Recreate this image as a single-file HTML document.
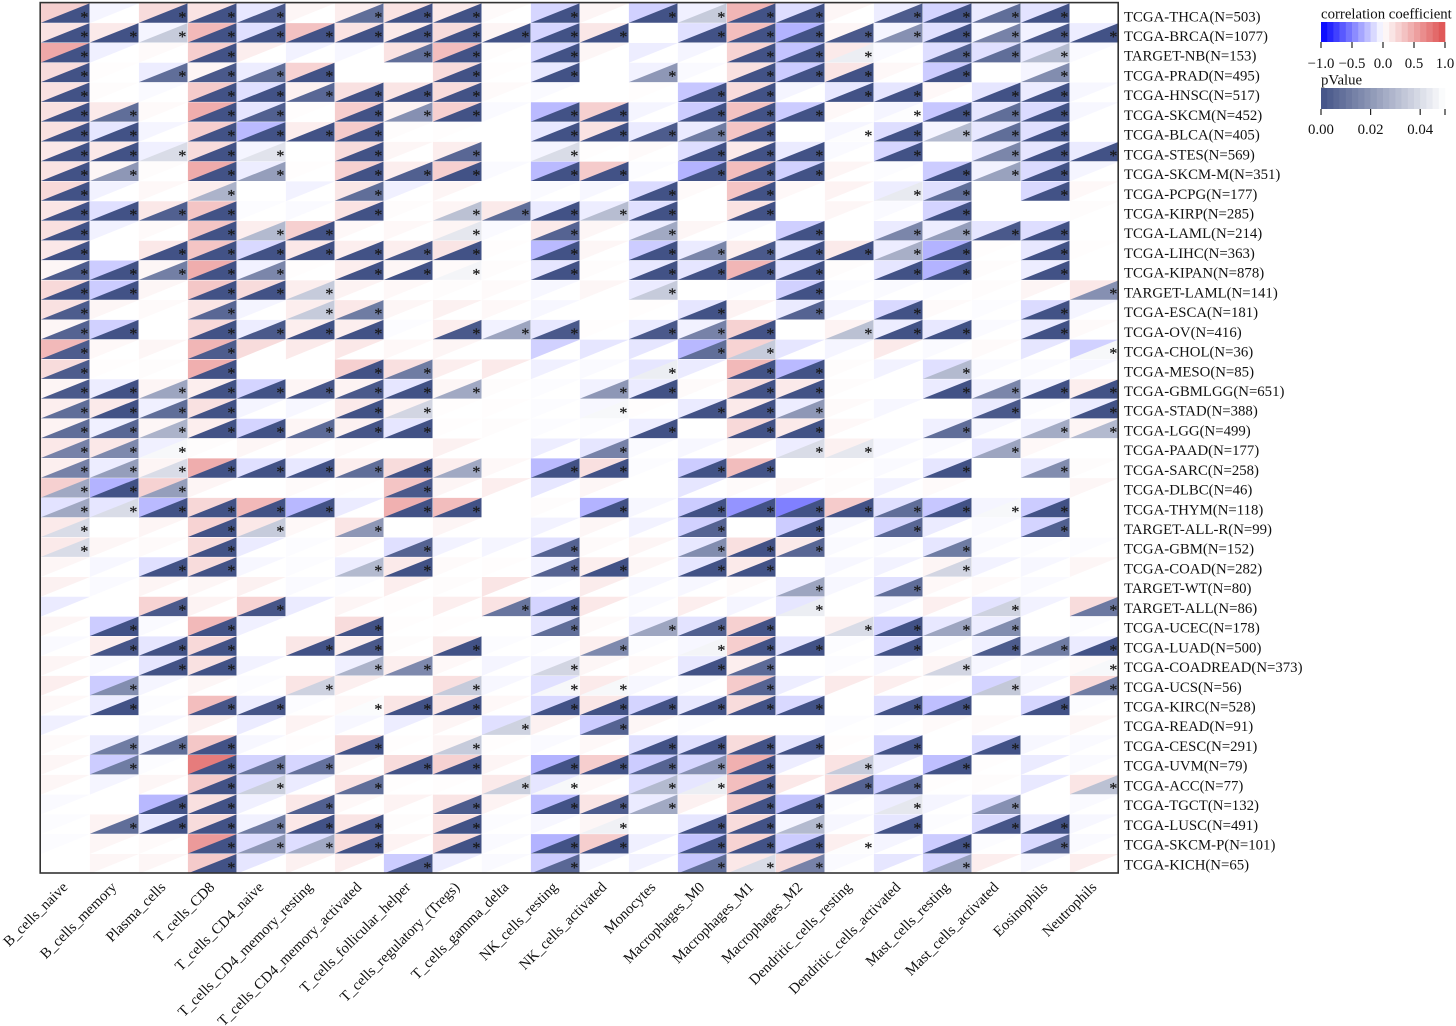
<!DOCTYPE html>
<html lang="en">
<head>
<meta charset="utf-8">
<title>Immune cell correlation heatmap</title>
<style>
html,body{margin:0;padding:0;background:#fff;}
svg{display:block;font-family:"Liberation Serif","Times New Roman",serif;}
text{fill:#111;}
</style>
</head>
<body>
<svg id="chart" xmlns="http://www.w3.org/2000/svg" width="1456" height="1026" viewBox="0 0 1456 1026">
  <g id="cells"></g>
  <rect x="40.2" y="2.6" width="1078" height="870.4" fill="none" stroke="#333" stroke-width="1.6"></rect>
  <g id="row-labels"></g>
  <g id="col-labels"></g>
  <g id="legend-corr"></g>
  <g id="legend-p"></g>
</svg>
<script>
const rowLabels = ["TCGA-THCA(N=503)","TCGA-BRCA(N=1077)","TARGET-NB(N=153)","TCGA-PRAD(N=495)","TCGA-HNSC(N=517)","TCGA-SKCM(N=452)","TCGA-BLCA(N=405)","TCGA-STES(N=569)","TCGA-SKCM-M(N=351)","TCGA-PCPG(N=177)","TCGA-KIRP(N=285)","TCGA-LAML(N=214)","TCGA-LIHC(N=363)","TCGA-KIPAN(N=878)","TARGET-LAML(N=141)","TCGA-ESCA(N=181)","TCGA-OV(N=416)","TCGA-CHOL(N=36)","TCGA-MESO(N=85)","TCGA-GBMLGG(N=651)","TCGA-STAD(N=388)","TCGA-LGG(N=499)","TCGA-PAAD(N=177)","TCGA-SARC(N=258)","TCGA-DLBC(N=46)","TCGA-THYM(N=118)","TARGET-ALL-R(N=99)","TCGA-GBM(N=152)","TCGA-COAD(N=282)","TARGET-WT(N=80)","TARGET-ALL(N=86)","TCGA-UCEC(N=178)","TCGA-LUAD(N=500)","TCGA-COADREAD(N=373)","TCGA-UCS(N=56)","TCGA-KIRC(N=528)","TCGA-READ(N=91)","TCGA-CESC(N=291)","TCGA-UVM(N=79)","TCGA-ACC(N=77)","TCGA-TGCT(N=132)","TCGA-LUSC(N=491)","TCGA-SKCM-P(N=101)","TCGA-KICH(N=65)"];
const colLabels = ["B_cells_naive","B_cells_memory","Plasma_cells","T_cells_CD8","T_cells_CD4_naive","T_cells_CD4_memory_resting","T_cells_CD4_memory_activated","T_cells_follicular_helper","T_cells_regulatory_(Tregs)","T_cells_gamma_delta","NK_cells_resting","NK_cells_activated","Monocytes","Macrophages_M0","Macrophages_M1","Macrophages_M2","Dendritic_cells_resting","Dendritic_cells_activated","Mast_cells_resting","Mast_cells_activated","Eosinophils","Neutrophils"];
const corrValues = [
[.27,-.04,.2,.16,-.09,.05,.1,.16,.12,.03,-.16,.06,-.18,-.06,.42,-.13,.05,-.07,-.17,-.08,-.11,0],
[.16,.12,-.04,.4,-.12,.35,.16,.12,.2,.06,-.16,.14,0,-.12,.37,-.3,.05,-.04,-.12,-.03,-.05,-.07],
[.5,-.06,.03,.28,.1,-.05,-.03,.16,.37,.02,-.15,.05,-.07,-.04,.25,-.23,.12,-.02,-.13,-.12,-.08,-.02],
[.2,.01,-.07,.06,-.07,.25,0,0,.2,.01,-.09,0,-.05,-.02,.17,-.2,.15,.04,-.2,0,-.04,0],
[.17,.02,-.02,.3,-.12,.08,.17,.15,.2,.03,-.02,0,.01,-.22,.2,-.04,-.09,-.1,.04,-.1,-.08,-.03],
[.17,.12,.03,.47,-.1,.01,.28,.07,.27,-.02,-.27,.27,-.04,-.2,.35,-.2,.04,-.04,-.22,-.1,-.14,-.03],
[.17,-.1,-.04,.28,-.27,.1,.3,.02,.01,0,-.09,.16,-.08,-.08,.33,0,-.04,-.13,-.04,-.09,-.12,0],
[.13,.13,-.06,.2,-.04,0,.2,.05,.1,0,-.04,.01,.03,-.13,.12,-.08,-.02,-.16,0,-.08,-.1,-.08],
[.16,.05,.02,.48,-.07,.01,.27,.1,.27,-.02,-.27,.3,-.01,-.3,.38,-.18,.06,-.01,-.2,-.05,-.14,-.04],
[.22,-.05,.04,.1,0,-.05,.14,-.06,.06,0,-.02,-.03,-.14,.03,.33,.04,.07,-.07,-.12,0,-.15,.04],
[.15,-.12,.13,.33,-.01,-.02,.16,.02,.06,.12,-.08,-.07,-.12,0,.16,0,.05,-.02,-.17,0,0,.02],
[.18,-.05,.03,.33,.1,.27,.04,.04,.06,-.02,.12,.05,-.07,.05,-.02,-.19,0,-.08,-.07,-.1,-.13,0],
[.13,0,.13,.33,-.15,.13,.1,.1,.15,.01,-.27,.05,-.2,-.08,.1,-.1,.12,-.07,-.3,.01,-.09,.01],
[.05,-.2,.05,.47,-.05,.01,.1,.05,.03,.02,-.1,.02,-.09,-.1,.42,-.11,.02,-.1,-.3,.02,-.07,0],
[.22,-.2,.05,.32,.2,.1,.07,.04,.02,.03,-.03,.05,-.08,0,-.01,-.18,-.01,-.02,-.01,.02,.06,.13],
[.17,.05,.03,.15,-.04,.1,.13,.05,.08,.04,-.03,0,.01,-.1,.07,-.08,-.04,-.15,.03,-.01,-.14,-.04],
[.05,-.18,0,.22,-.07,.1,.1,-.01,.1,-.05,-.09,.01,-.08,-.05,.26,0,.07,-.07,-.09,-.02,-.08,.03],
[.4,.04,.05,.42,.2,.12,.13,.04,.06,0,-.18,-.1,-.1,-.28,.25,-.1,-.04,.12,-.02,.03,-.1,-.18],
[.2,.01,.02,.46,0,0,.27,.18,.1,.12,-.06,-.02,-.1,-.08,.4,-.27,.02,-.05,-.12,-.02,-.02,-.03],
[.06,-.07,.06,.1,-.17,.06,.07,-.1,.05,.02,-.01,-.05,-.08,.03,.2,.12,.02,0,-.08,-.05,-.05,.1],
[.1,.12,-.06,.17,-.04,-.03,.12,.07,.01,.01,-.01,-.03,.01,-.08,.12,-.07,.03,-.03,0,-.08,-.01,-.07],
[.07,-.06,.05,.1,-.17,.06,.08,-.1,.01,.02,-.01,-.01,-.07,0,.22,.12,.04,0,-.06,-.03,-.05,.06],
[.13,.13,-.06,.02,.05,.04,.03,0,.08,0,-.07,-.1,-.02,-.03,.06,-.07,.08,-.03,-.02,-.1,.04,0],
[.09,-.07,.06,.47,-.12,-.09,.1,.2,.1,.04,-.27,.18,-.01,-.2,.38,0,.01,-.02,-.1,0,-.08,.02],
[.27,-.3,.26,.06,0,.03,.01,.33,.06,.1,-.1,.05,0,-.1,.03,.05,.02,-.05,.03,0,0,.05],
[-.11,-.1,-.27,.23,.4,-.28,-.08,.45,.38,0,.02,-.3,-.03,-.2,-.42,-.5,.3,-.12,-.22,-.04,-.2,0],
[.12,0,.06,.25,.13,.04,.15,0,.06,0,-.05,.05,-.05,-.18,0,-.2,-.03,-.16,-.08,-.02,-.17,0],
[.12,.05,.03,.2,-.08,-.01,.04,-.12,-.05,-.04,-.12,.03,.06,-.09,.18,.12,-.02,-.02,-.1,-.02,-.01,-.01],
[.05,-.03,-.12,.2,-.03,-.01,-.07,.12,.03,.01,-.05,.1,.05,-.1,.12,0,-.03,-.05,.06,-.05,-.03,.05],
[.08,-.02,.06,.05,.08,-.02,-.01,.1,.02,.15,-.01,.11,-.03,-.03,.03,-.08,-.03,-.12,.04,.03,-.02,0],
[-.08,0,.25,.07,.25,-.08,.06,.01,.1,.16,-.17,.13,-.02,.1,-.04,-.1,0,-.04,.09,-.11,-.05,.2],
[.06,-.2,-.02,.4,-.06,0,.2,.01,.01,0,-.1,.03,-.08,-.11,.27,0,.08,-.17,-.09,-.07,0,-.01],
[-.02,.1,-.1,.22,0,.14,.1,.02,.14,-.01,-.01,.09,-.01,-.03,.28,-.1,-.01,-.14,-.02,-.06,-.06,-.08],
[.06,-.02,-.1,.17,-.05,0,-.06,.1,.04,-.04,-.05,.05,.04,-.09,.1,0,-.01,-.03,.06,-.03,-.02,.03],
[.1,-.2,-.04,.05,-.01,.15,.09,0,.18,-.03,-.12,.12,-.03,-.02,.3,-.07,.12,.1,.01,-.17,-.04,.22],
[.04,-.08,-.01,.37,-.07,-.01,.04,.15,.15,.04,-.15,.14,-.17,-.09,.2,-.15,0,-.13,-.25,0,-.16,-.01],
[-.06,0,-.03,.08,-.08,.07,-.03,-.07,.06,-.12,.08,-.2,.05,-.01,0,0,-.01,-.01,.03,.03,0,.05],
[.03,-.08,-.06,.32,-.03,.01,.2,.01,.06,.01,-.02,.04,-.12,-.12,.2,-.1,.01,-.16,0,-.14,-.03,-.02],
[.05,-.2,-.01,.75,-.17,-.16,.05,.2,.26,.06,-.3,.28,-.2,-.16,.45,-.07,.16,-.07,-.25,.01,-.08,-.02],
[.05,-.04,.05,.3,-.13,-.08,.16,.01,.01,.12,-.1,.04,-.13,-.1,.37,.13,.2,-.2,.01,.02,-.09,.15],
[-.02,0,-.28,.18,-.06,.13,.04,.07,.15,.07,-.26,.15,-.08,.08,.3,-.22,-.01,-.07,-.04,-.12,0,-.02],
[-.01,.07,-.09,.2,-.05,.13,.15,.02,.17,-.01,-.03,.05,0,-.1,.2,-.04,-.03,-.1,-.01,-.14,-.08,-.03],
[-.01,.05,.03,.58,-.13,-.13,.2,.07,.2,-.02,-.3,.28,-.06,-.23,.25,-.2,.09,-.04,-.2,-.01,-.15,-.02],
[0,.05,.05,.3,-.1,.08,.1,-.2,-.07,-.02,-.2,-.04,-.05,-.22,.13,.2,-.02,-.1,-.17,.1,-.03,.1]
];
const pValues = [
[0,1,0,0,.002,1,.008,0,0,1,0,1,0,.035,0,0,1,.003,0,.008,0,1],
[0,0,.035,0,0,0,0,0,0,0,0,0,1,0,0,0,.002,.018,0,.014,.002,0],
[0,1,1,0,1,1,1,.008,0,1,0,1,1,1,0,0,.045,1,.004,.008,.03,1],
[0,1,.008,.002,.008,0,1,1,0,1,0,1,.02,1,0,0,0,1,0,1,.017,1],
[0,1,1,0,0,.006,0,0,0,1,1,1,1,0,0,1,0,0,1,0,0,1],
[0,.008,1,0,.004,1,0,.018,0,1,0,0,1,0,0,0,1,.0495,0,.008,0,1],
[0,0,1,0,0,0,0,1,1,1,0,0,.003,.012,0,1,.0495,0,.03,.008,0,1],
[0,0,.04,0,.042,1,0,1,.006,1,.04,1,1,0,0,0,1,0,1,.015,0,0],
[0,.02,1,0,.022,1,0,.004,0,1,0,0,1,0,0,0,1,1,0,.023,0,1],
[0,1,1,.028,1,1,.008,1,1,1,1,1,0,1,0,1,1,.044,.008,1,0,1],
[0,0,.004,0,1,1,0,1,.032,.008,0,.031,0,1,0,1,1,1,0,1,1,1],
[0,1,1,0,.03,0,1,1,.043,1,.005,1,.025,1,1,0,1,.015,.022,.002,0,1],
[0,1,0,0,0,0,0,.002,0,1,0,1,0,.015,.002,0,0,.027,0,1,0,1],
[.003,0,.013,0,.015,1,0,0,.047,1,0,1,0,0,0,0,1,0,0,1,0,1],
[0,0,1,0,0,.035,1,1,1,1,1,1,.035,1,1,0,1,1,1,1,1,.018],
[.003,1,1,.006,1,.035,.012,1,1,1,1,1,1,0,1,.005,1,0,1,1,0,1],
[.005,0,1,0,.002,0,0,1,.002,.024,.002,1,.002,.014,0,1,.032,0,0,1,0,1],
[.003,1,1,.003,1,1,1,1,1,1,1,1,1,.008,.035,1,1,1,1,1,1,.048],
[.003,1,1,0,1,1,0,.012,1,1,1,1,.045,1,0,0,1,1,.03,1,1,1],
[.002,0,.024,0,0,.001,.002,0,.025,1,1,.02,0,1,0,0,1,1,0,.015,0,0],
[.008,0,.008,0,1,1,0,.038,1,1,1,.048,1,0,0,.02,1,1,1,.002,1,0],
[.008,.006,.028,0,0,.007,.001,0,1,1,1,1,0,1,0,0,1,1,.008,1,.026,.03],
[.014,.016,.048,1,1,1,1,1,1,1,1,.014,1,1,1,.04,.043,1,1,.024,1,1],
[.014,.022,.04,0,0,0,.008,0,.025,1,0,0,1,0,0,1,1,1,0,1,.017,1],
[.025,0,.022,1,1,1,1,.002,1,1,1,1,1,1,1,1,1,1,1,1,1,1],
[.025,.04,0,0,0,0,1,0,0,1,1,0,1,0,0,0,0,.008,0,.048,0,1],
[.04,1,1,0,.035,1,.02,1,1,1,1,1,1,.005,1,0,1,.006,1,1,.004,1],
[.04,1,1,0,1,1,1,.005,1,1,.005,1,1,.017,0,.006,1,1,.012,1,1,1],
[1,1,0,0,1,1,.03,0,1,1,.005,0,1,0,0,1,1,1,.038,1,1,1],
[1,1,1,1,1,1,1,1,1,1,1,1,1,1,1,.024,1,.008,1,1,1,1],
[1,1,.002,1,.001,1,1,1,1,.01,.003,1,1,1,1,.045,1,1,1,.037,1,.011],
[1,0,1,0,1,1,0,1,1,1,.008,1,.024,.004,0,1,.04,0,.024,.017,1,1],
[1,.001,0,0,1,0,.002,1,0,1,1,.016,1,.047,0,0,1,0,1,.003,.012,0],
[1,1,0,0,1,1,.028,.016,1,1,.038,1,1,0,.007,1,1,1,.038,1,1,.048],
[1,.017,1,1,1,.037,1,1,.035,1,.048,.048,1,1,.005,1,1,1,1,.034,1,.012],
[1,0,1,.001,.001,1,.049,0,0,1,0,0,0,0,0,0,1,0,0,1,0,1],
[1,1,1,1,1,1,1,1,1,.037,1,.005,1,1,1,1,1,1,1,1,1,1],
[1,.012,.008,0,1,1,0,1,.035,1,1,1,0,0,0,0,1,0,1,0,1,1],
[1,.012,1,0,.01,.009,1,0,0,1,0,0,.005,.018,0,1,.035,1,0,1,1,1],
[1,1,1,0,.036,1,.008,1,1,.036,.048,1,.03,.045,0,1,.005,.006,1,1,1,.032],
[1,1,0,0,1,.004,1,1,.003,1,0,.003,.025,1,0,0,1,.043,1,.018,1,1],
[1,.008,0,0,.012,0,0,1,0,1,1,.046,1,0,0,.03,1,0,1,.001,0,1],
[1,1,1,0,.02,.025,0,1,0,1,0,0,1,0,0,0,.0495,1,0,1,.006,1],
[1,1,1,0,1,1,1,.002,1,1,.006,1,1,.008,.04,.014,1,1,.022,1,1,1]
];
const corrTickValues = [-1,-0.5,0,0.5,1];
const corrTickLabels = ["\u22121.0","\u22120.5","0.0","0.5","1.0"];
const pTickValues = [0,0.02,0.04,0.05];
const pTickLabels = ["0.00","0.02","0.04",""];

const SVGNS = "http://www.w3.org/2000/svg";
const FONT = 14.8;
function xScale(c){ return 40.9 + 49 * c; }
function yScale(r){ return 3.4 + 19.78 * r; }
function labelBaseline(r){ return 21.3 + 19.72 * r; }
function mix(a,b,t){ return Math.round(a + (b - a) * t); }
function corrColor(v){
  if (v >= 0) return "rgb(" + mix(255,222,v) + "," + mix(255,80,v) + "," + mix(255,80,v) + ")";
  const t = -v;
  return "rgb(" + mix(255,0,t) + "," + mix(255,0,t) + ",255)";
}
function pColor(p){
  const t = Math.min(p / 0.05, 1);
  return "rgb(" + mix(66,255,t) + "," + mix(82,255,t) + "," + mix(134,255,t) + ")";
}
function node(tag, attrs, parent, txt){
  const el = document.createElementNS(SVGNS, tag);
  for (const k in attrs) el.setAttribute(k, attrs[k]);
  if (txt !== undefined) el.textContent = txt;
  parent.appendChild(el);
  return el;
}

const cellsG = document.getElementById("cells");
corrValues.forEach(function(row, r){
  row.forEach(function(v, c){
    const x0 = xScale(c), x1 = xScale(c + 1), y0 = yScale(r), y1 = yScale(r + 1);
    const tri = node("polygon", {points: x0+","+y0+" "+x1+","+y0+" "+x0+","+y1, fill: corrColor(v)}, cellsG);
    
    
    const p = pValues[r][c];
    if (p < 0.05) {
      const low = node("polygon", {points: x0+","+(y1-0.4)+" "+(x1-0.4)+","+y0+" "+(x1-0.4)+","+(y1-0.4), fill: pColor(p)}, cellsG);
      
      
      const star = node("text", {x: x1 - 5.5, y: (y0 + y1) / 2 + 9, "text-anchor": "middle", "font-size": 16, style: "fill:#1a1a1a;stroke:#1a1a1a;stroke-width:.25"}, cellsG, "*");
      
      
    }
  });
});

const rowG = document.getElementById("row-labels");
rowLabels.forEach(function(t, r){
  const el = node("text", {x: 1124, y: labelBaseline(r), "font-size": FONT}, rowG, t);
  
  
});

const colG = document.getElementById("col-labels");
colLabels.forEach(function(t, c){
  const ax = xScale(c + 0.5) + 3, ay = 888;
  const el = node("text", {x: ax, y: ay, "font-size": FONT, "text-anchor": "end", transform: "rotate(-45 " + ax + " " + ay + ")"}, colG, t);
  
  
});

function corrX(v){ return 1321 + (v + 1) / 2 * 124; }
function pLegendX(v){ return 1321 + v / 0.05 * 124; }

const lc = document.getElementById("legend-corr");
const lcTitle = node("text", {x: 1321, y: 18.5, "font-size": FONT}, lc, "correlation coefficient");


const BANDS = 20;
for (let i = 0; i < BANDS; i++) {
  const a = -1 + 2 * i / BANDS, b = -1 + 2 * (i + 1) / BANDS;
  const band = node("rect", {x: corrX(a), y: 22, width: corrX(b) - corrX(a) + 0.3, height: 20, fill: corrColor((a + b) / 2)}, lc);
  
  
}
corrTickValues.forEach(function(v, i){
  const tick = node("line", {x1: corrX(v), x2: corrX(v), y1: 42, y2: 48, stroke: "#222", "stroke-width": 1.2}, lc);
  
  
  const lab = node("text", {x: corrX(v), y: 68, "font-size": FONT, "text-anchor": "middle"}, lc, corrTickLabels[i]);
  
  
});

const lp = document.getElementById("legend-p");
const lpTitle = node("text", {x: 1321, y: 84.5, "font-size": FONT}, lp, "pValue");


for (let i = 0; i < BANDS; i++) {
  const a = 0.05 * i / BANDS, b = 0.05 * (i + 1) / BANDS;
  const band = node("rect", {x: pLegendX(a), y: 88, width: pLegendX(b) - pLegendX(a) + 0.3, height: 21, fill: pColor((a + b) / 2)}, lp);
  
  
}
pTickValues.forEach(function(v, i){
  const tick = node("line", {x1: pLegendX(v), x2: pLegendX(v), y1: 109, y2: 115, stroke: "#222", "stroke-width": 1.2}, lp);
  
  
  if (pTickLabels[i]) {
    const lab = node("text", {x: pLegendX(v), y: 134, "font-size": FONT, "text-anchor": "middle"}, lp, pTickLabels[i]);
    
    
  }
});
</script>
</body>
</html>
